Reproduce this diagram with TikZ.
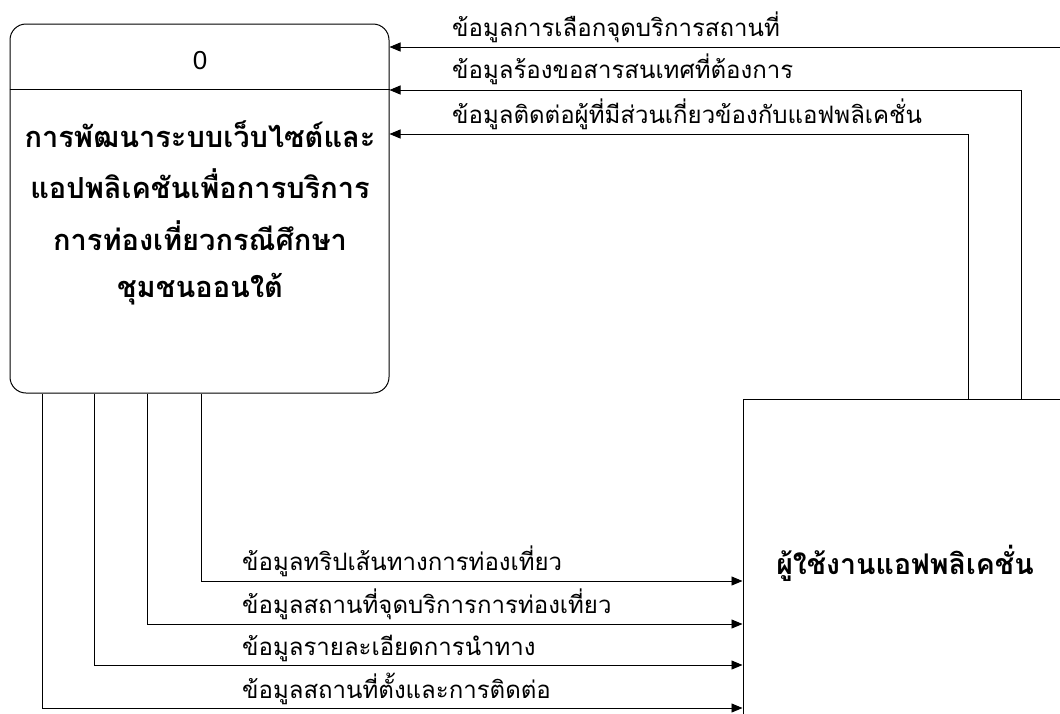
\documentclass[tikz,border=0pt]{standalone}
\usepackage{fontspec}
\setmainfont{Liberation Sans}
\newfontfamily\thaifont[Script=Thai]{Loma}
\usetikzlibrary{arrows.meta}
\begin{document}
\begin{tikzpicture}[x=1pt,y=-1pt,
  flow/.style={draw=black,line width=0.9pt,-{Triangle[length=11pt,width=9pt]}},
  lbl/.style={anchor=base west,inner sep=0pt,font=\thaifont\fontsize{24}{26}\selectfont},
  pline/.style={anchor=base,inner sep=0pt,font=\thaifont\bfseries\fontsize{29}{32}\selectfont},
  proc/.style={draw=black,line width=1pt,rounded corners=16pt,minimum width=379pt,minimum height=369pt,inner sep=0pt},
  ext/.style={draw=black,line width=1pt,minimum width=324pt,minimum height=328pt,inner sep=0pt,
    font=\thaifont\bfseries\fontsize{28.5}{30}\selectfont}]
\clip (0,0) rectangle (1060,713);
\fill[white] (0,0) rectangle (1060,713);
% process
\node[proc] (p) at (199.5,208.5) {};
\coordinate (dv) at (0,89);
\draw[line width=1pt] (p.west |- dv) -- (p.east |- dv);
\node[anchor=base,inner sep=0pt,font=\fontsize{26}{30}\selectfont] (pid) at (200,69) {0};
\node[pline] (pn1) at (200,147) {การพัฒนาระบบเว็บไซต์และ};
\node[pline] (pn2) at (200,198) {แอปพลิเคชันเพื่อการบริการ};
\node[pline] (pn3) at (200,250) {การท่องเที่ยวกรณีศึกษา};
\node[pline] (pn4) at (200,297) {ชุมชนออนใต้};
% external entity
\node[ext] (u) at (905,563) {ผู้ใช้งานแอฟพลิเคชั่น};
% incoming flows
\coordinate (s1) at (1060,47);
\coordinate (y2) at (0,90);
\coordinate (x2) at (1021,0);
\coordinate (y3) at (0,134);
\coordinate (x3) at (968,0);
\draw[flow] (s1) -- (p.east |- s1);
\draw[flow] (u.north -| x2) |- (p.east |- y2);
\draw[flow] (u.north -| x3) |- (p.east |- y3);
\node[lbl] (l1) at (452,36) {ข้อมูลการเลือกจุดบริการสถานที่};
\node[lbl] (l2) at (452,78) {ข้อมูลร้องขอสารสนเทศที่ต้องการ};
\node[lbl] (l3) at (452,123) {ข้อมูลติดต่อผู้ที่มีส่วนเกี่ยวข้องกับแอฟพลิเคชั่น};
% outgoing flows
\coordinate (a1) at (201,581);
\coordinate (a2) at (147,624);
\coordinate (a3) at (94,665);
\coordinate (a4) at (42,708);
\draw[flow] (p.south -| a1) |- (u.west |- a1);
\draw[flow] (p.south -| a2) |- (u.west |- a2);
\draw[flow] (p.south -| a3) |- (u.west |- a3);
\draw[flow] (p.south -| a4) |- (u.west |- a4);
\node[lbl] (b1) at (242,570) {ข้อมูลทริปเส้นทางการท่องเที่ยว};
\node[lbl] (b2) at (242,613) {ข้อมูลสถานที่จุดบริการการท่องเที่ยว};
\node[lbl] (b3) at (242,655) {ข้อมูลรายละเอียดการนำทาง};
\node[lbl] (b4) at (242,698) {ข้อมูลสถานที่ตั้งและการติดต่อ};
\end{tikzpicture}
\end{document}
